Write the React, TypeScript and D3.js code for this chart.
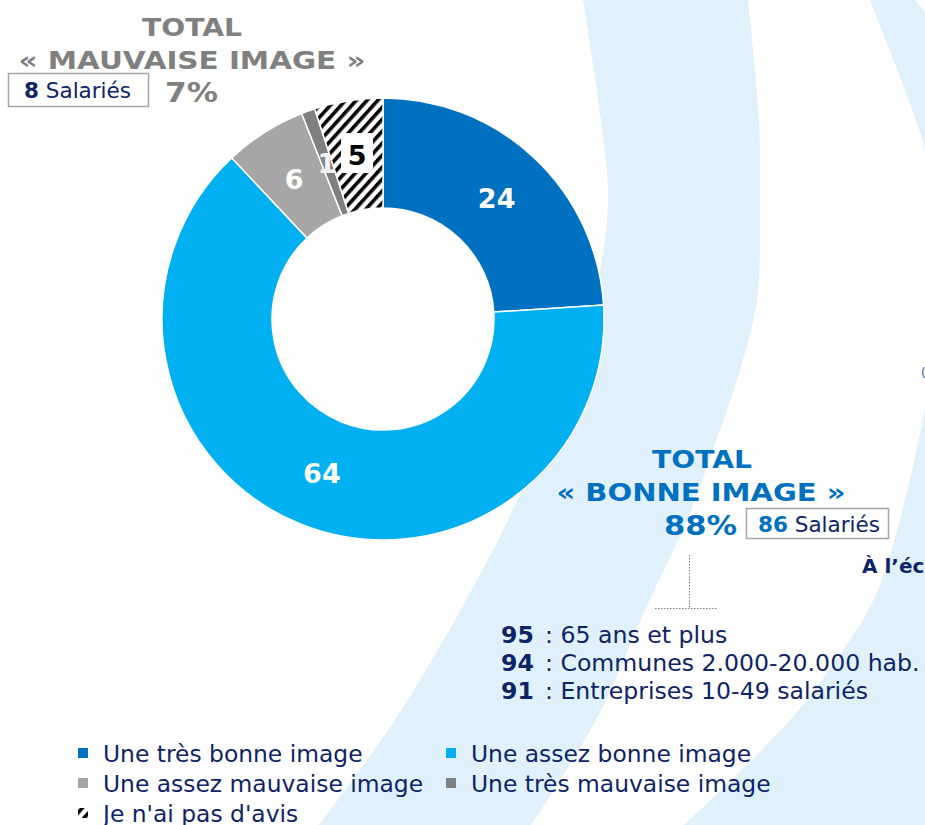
import React from "react";
import * as d3 from "d3";

// ---- data ----
const categories = [
  "Une très bonne image",
  "Une assez bonne image",
  "Une assez mauvaise image",
  "Une très mauvaise image",
  "Je n'ai pas d'avis",
];
const values = [24, 64, 6, 1, 5];
const sliceColors = ["#0070C0", "#00B0F0", "#A6A6A6", "#808080", "url(#hatch)"];
const labelColors = ["#FFFFFF", "#FFFFFF", "#FFFFFF", "#F2F2F2", "#000000"];

const goodTitle = ["TOTAL", "« BONNE IMAGE »"];
const goodPct = "88%";
const goodCount = "86";
const badTitle = ["TOTAL", "« MAUVAISE IMAGE »"];
const badPct = "7%";
const badCount = "8";
const countUnit = "Salariés";

const highlightValues = ["95", "94", "91"];
const highlightLabels = ["65 ans et plus", "Communes 2.000-20.000 hab.", "Entreprises 10-49 salariés"];
const sideTitle = "À l’éc";

const NAVY = "#0E2466";
const FONT = "'DejaVu Sans', Verdana, sans-serif";

// background swooshes (decoration)
const bandARight: [number, number][] = [
  [748, 0], [759, 120], [760, 200], [757, 300], [740, 370], [713, 450], [687, 520],
  [645, 610], [596, 720], [531, 825],
];
const bandALeft: [number, number][] = [
  [319, 825], [395, 720], [455, 620], [508, 520], [560, 400], [598, 280], [608, 200], [601, 120], [583, 0],
];
const bandCLeft: [number, number][] = [
  [870, 0], [903, 85], [925, 150], [945, 280], [925, 407], [905, 500], [878, 590], [850, 640],
  [790, 720], [684, 825],
];
const bandCRight: [number, number][] = [[1000, 825], [1000, 100], [915, 0]];

export default function App() {
  const W = 925, H = 825;
  const cx = 383, cy = 319, rOuter = 221, rInner = 111;

  const pie = d3.pie<number>().sort(null).value((d) => d)(values);
  const arc = d3.arc<d3.PieArcDatum<number>>().innerRadius(rInner).outerRadius(rOuter);
  const curve = d3.line().curve(d3.curveCatmullRom.alpha(0.5));
  const straight = d3.line();
  const join = (a: string | null, b: string | null) => (a || "") + "L" + (b || "").slice(1) + "Z";
  const bandA = join(curve(bandARight), curve(bandALeft));
  const bandC = join(curve(bandCLeft), straight(bandCRight));

  const legendCols = [78, 446];
  const legendRows = [762, 792, 822];

  return (
    <svg width={W} height={H} style={{ position: "absolute", left: 0, top: 0, background: "#fff" }} fontFamily={FONT}>
      <defs>
        <pattern id="hatch" patternUnits="userSpaceOnUse" width="8" height="8" patternTransform="rotate(42)">
          <rect width="8" height="8" fill="#fff" />
          <rect width="3.6" height="8" fill="#000" />
        </pattern>
      </defs>
      <rect width={W} height={H} fill="#fff" />
      <path d={bandA} fill="#E0F1FB" />
      <path d={bandC} fill="#E0F1FB" />

      {/* donut */}
      <g transform={`translate(${cx},${cy})`}>
        {pie.map((p, i) => (
          <path key={i} d={arc(p) || ""} fill={sliceColors[i]} stroke="#fff" strokeWidth={1.5} />
        ))}
        {pie.map((p, i) => {
          const [x, y] = arc.centroid(p);
          return (
            <g key={"l" + i}>
              {i === 4 && <rect x={x - 16} y={y - 22} width={32} height={40} fill="#fff" />}
              <text
                x={x}
                y={y}
                dy="0.36em"
                textAnchor="middle"
                fontWeight={700}
                fontSize={27}
                fill={labelColors[i]}
              >
                {values[i]}
              </text>
            </g>
          );
        })}
      </g>

      {/* bad image total */}
      <g fill="#808080" fontWeight={700}>
        <text x={192} y={36} textAnchor="middle" fontSize={25} textLength={100} lengthAdjust="spacingAndGlyphs">{badTitle[0]}</text>
        <text x={192} y={69} textAnchor="middle" fontSize={25} textLength={347} lengthAdjust="spacingAndGlyphs">{badTitle[1]}</text>
        <text x={165} y={102} fontSize={26} textLength={53} lengthAdjust="spacingAndGlyphs">{badPct}</text>
      </g>
      <rect x={8.5} y={73.5} width={140} height={33} fill="#fff" stroke="#A6A6A6" strokeWidth={1.5} />
      <text x={24} y={97.5} fontSize={21.5} fill={NAVY}>
        <tspan fontWeight={700}>{badCount}</tspan>
        <tspan> {countUnit}</tspan>
      </text>

      {/* good image total */}
      <g fill="#0070C0" fontWeight={700}>
        <text x={702} y={468} textAnchor="middle" fontSize={25} textLength={100} lengthAdjust="spacingAndGlyphs">{goodTitle[0]}</text>
        <text x={701} y={501} textAnchor="middle" fontSize={25} textLength={289} lengthAdjust="spacingAndGlyphs">{goodTitle[1]}</text>
        <text x={664} y={535} fontSize={26} textLength={73} lengthAdjust="spacingAndGlyphs">{goodPct}</text>
      </g>
      <rect x={746.5} y={508.5} width={142} height={30} fill="#fff" stroke="#A6A6A6" strokeWidth={1.5} />
      <text x={758} y={532} fontSize={21.5} fill={NAVY}>
        <tspan fontWeight={700} fill="#0070C0">{goodCount}</tspan>
        <tspan> {countUnit}</tspan>
      </text>

      {/* connector */}
      <g stroke="#808080" strokeWidth={1} strokeDasharray="1.5,1.5" fill="none">
        <line x1={689.5} y1={555} x2={689.5} y2={608} />
        <line x1={655} y1={608.5} x2={718} y2={608.5} />
      </g>

      {/* side title, cut off at right edge */}
      <text x={862} y={573} fontSize={20} fontWeight={700} fill={NAVY}>{sideTitle}</text>
      <text x={921} y={377} fontSize={12} fill="#44557f">(</text>

      {/* highlights */}
      {highlightValues.map((v, i) => (
        <text key={v} y={643 + i * 28} fontSize={23.6} fill={NAVY}>
          <tspan x={501} fontWeight={700}>{v}</tspan>
          <tspan x={545}>: {highlightLabels[i]}</tspan>
        </text>
      ))}

      {/* legend */}
      {categories.map((c, i) => {
        const col = i % 2;
        const row = Math.floor(i / 2);
        const x = legendCols[col];
        const y = legendRows[row];
        return (
          <g key={c}>
            <rect x={x} y={y - 14} width={10} height={10} fill={sliceColors[i]} />
            <text x={x + 25} y={y} fontSize={23.4} fill={NAVY}>{c}</text>
          </g>
        );
      })}
    </svg>
  );
}
